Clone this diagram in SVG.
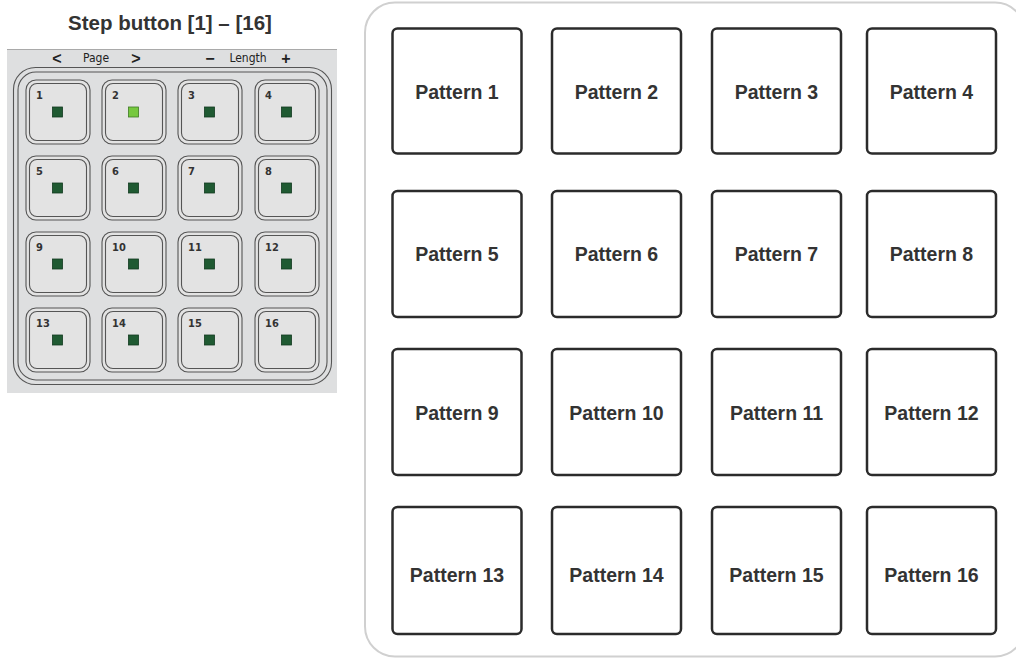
<svg xmlns="http://www.w3.org/2000/svg" width="1016" height="659" viewBox="0 0 1016 659">
<style>
.pad{fill:#fff;stroke:#2b2b2b;stroke-width:2.5}
.pt{font-family:"Liberation Sans",Arial,sans-serif;font-weight:bold;font-size:19.5px;fill:#333;text-anchor:middle}
.bo{fill:#e3e3e3;stroke:#555;stroke-width:1.1}
.bi{fill:none;stroke:#555;stroke-width:1.1}
.bn{font-family:"DejaVu Sans Condensed","Liberation Sans",sans-serif;font-weight:bold;font-size:11px;fill:#333}
.led{fill:#1f5a32;stroke:#123a20;stroke-width:0.8}
.hd{font-family:"DejaVu Sans Condensed","Liberation Sans",sans-serif;font-size:12px;fill:#222;text-anchor:middle}
.sym{font-family:"Liberation Sans",Arial,sans-serif;font-weight:bold;font-size:16px;fill:#222;text-anchor:middle}
</style>
<rect width="1016" height="659" fill="#fff"/>
<g id="title"><text x="170" y="30" font-family="Liberation Sans,Arial,sans-serif" font-weight="bold" font-size="20.5" fill="#333" text-anchor="middle">Step button [1] – [16]</text></g>
<g id="step-panel">
<rect x="7" y="49" width="330" height="344" fill="#dedfe0"/>
<line x1="7" y1="49.5" x2="337" y2="49.5" stroke="#a9a9a9" stroke-width="1"/>
<text class="sym" x="57" y="64">&lt;</text>
<text class="hd" x="96" y="62">Page</text>
<text class="sym" x="136" y="64">&gt;</text>
<text class="sym" x="210" y="64">−</text>
<text class="hd" x="248" y="62">Length</text>
<text class="sym" x="286" y="64">+</text>
<rect x="13.5" y="67.5" width="318" height="317" rx="22" fill="none" stroke="#555" stroke-width="1.1"/>
<rect x="18" y="72" width="309" height="308" rx="18" fill="none" stroke="#555" stroke-width="1.1"/>
</g>
<g id="step-buttons">
<g id="btn1"><rect class="bo" x="26" y="80" width="64" height="64" rx="10"/><rect class="bi" x="29.5" y="83.5" width="57" height="57" rx="7.5"/><text class="bn" x="36" y="99">1</text><rect class="led" x="52.5" y="107" width="10" height="10"/></g>
<g id="btn2"><rect class="bo" x="102" y="80" width="64" height="64" rx="10"/><rect class="bi" x="105.5" y="83.5" width="57" height="57" rx="7.5"/><text class="bn" x="112" y="99">2</text><rect x="128.5" y="107" width="10" height="10" fill="#76c83e" stroke="#3f7a24" stroke-width="0.8"/></g>
<g id="btn3"><rect class="bo" x="178" y="80" width="64" height="64" rx="10"/><rect class="bi" x="181.5" y="83.5" width="57" height="57" rx="7.5"/><text class="bn" x="188" y="99">3</text><rect class="led" x="204.5" y="107" width="10" height="10"/></g>
<g id="btn4"><rect class="bo" x="255" y="80" width="64" height="64" rx="10"/><rect class="bi" x="258.5" y="83.5" width="57" height="57" rx="7.5"/><text class="bn" x="265" y="99">4</text><rect class="led" x="281.5" y="107" width="10" height="10"/></g>
<g id="btn5"><rect class="bo" x="26" y="156" width="64" height="64" rx="10"/><rect class="bi" x="29.5" y="159.5" width="57" height="57" rx="7.5"/><text class="bn" x="36" y="175">5</text><rect class="led" x="52.5" y="183" width="10" height="10"/></g>
<g id="btn6"><rect class="bo" x="102" y="156" width="64" height="64" rx="10"/><rect class="bi" x="105.5" y="159.5" width="57" height="57" rx="7.5"/><text class="bn" x="112" y="175">6</text><rect class="led" x="128.5" y="183" width="10" height="10"/></g>
<g id="btn7"><rect class="bo" x="178" y="156" width="64" height="64" rx="10"/><rect class="bi" x="181.5" y="159.5" width="57" height="57" rx="7.5"/><text class="bn" x="188" y="175">7</text><rect class="led" x="204.5" y="183" width="10" height="10"/></g>
<g id="btn8"><rect class="bo" x="255" y="156" width="64" height="64" rx="10"/><rect class="bi" x="258.5" y="159.5" width="57" height="57" rx="7.5"/><text class="bn" x="265" y="175">8</text><rect class="led" x="281.5" y="183" width="10" height="10"/></g>
<g id="btn9"><rect class="bo" x="26" y="232" width="64" height="64" rx="10"/><rect class="bi" x="29.5" y="235.5" width="57" height="57" rx="7.5"/><text class="bn" x="36" y="251">9</text><rect class="led" x="52.5" y="259" width="10" height="10"/></g>
<g id="btn10"><rect class="bo" x="102" y="232" width="64" height="64" rx="10"/><rect class="bi" x="105.5" y="235.5" width="57" height="57" rx="7.5"/><text class="bn" x="112" y="251">10</text><rect class="led" x="128.5" y="259" width="10" height="10"/></g>
<g id="btn11"><rect class="bo" x="178" y="232" width="64" height="64" rx="10"/><rect class="bi" x="181.5" y="235.5" width="57" height="57" rx="7.5"/><text class="bn" x="188" y="251">11</text><rect class="led" x="204.5" y="259" width="10" height="10"/></g>
<g id="btn12"><rect class="bo" x="255" y="232" width="64" height="64" rx="10"/><rect class="bi" x="258.5" y="235.5" width="57" height="57" rx="7.5"/><text class="bn" x="265" y="251">12</text><rect class="led" x="281.5" y="259" width="10" height="10"/></g>
<g id="btn13"><rect class="bo" x="26" y="308" width="64" height="64" rx="10"/><rect class="bi" x="29.5" y="311.5" width="57" height="57" rx="7.5"/><text class="bn" x="36" y="327">13</text><rect class="led" x="52.5" y="335" width="10" height="10"/></g>
<g id="btn14"><rect class="bo" x="102" y="308" width="64" height="64" rx="10"/><rect class="bi" x="105.5" y="311.5" width="57" height="57" rx="7.5"/><text class="bn" x="112" y="327">14</text><rect class="led" x="128.5" y="335" width="10" height="10"/></g>
<g id="btn15"><rect class="bo" x="178" y="308" width="64" height="64" rx="10"/><rect class="bi" x="181.5" y="311.5" width="57" height="57" rx="7.5"/><text class="bn" x="188" y="327">15</text><rect class="led" x="204.5" y="335" width="10" height="10"/></g>
<g id="btn16"><rect class="bo" x="255" y="308" width="64" height="64" rx="10"/><rect class="bi" x="258.5" y="311.5" width="57" height="57" rx="7.5"/><text class="bn" x="265" y="327">16</text><rect class="led" x="281.5" y="335" width="10" height="10"/></g>
</g>
<g id="pattern-panel"><rect x="365" y="2.5" width="660" height="654" rx="30" fill="#fff" stroke="#d0d0d0" stroke-width="2"/></g>
<g id="patterns">
<g id="p1"><rect class="pad" x="392.5" y="28.5" width="129" height="125" rx="5"/><text class="pt" x="457" y="99">Pattern 1</text></g>
<g id="p2"><rect class="pad" x="552" y="28.5" width="129" height="125" rx="5"/><text class="pt" x="616.5" y="99">Pattern 2</text></g>
<g id="p3"><rect class="pad" x="712" y="28.5" width="129" height="125" rx="5"/><text class="pt" x="776.5" y="99">Pattern 3</text></g>
<g id="p4"><rect class="pad" x="867" y="28.5" width="129" height="125" rx="5"/><text class="pt" x="931.5" y="99">Pattern 4</text></g>
<g id="p5"><rect class="pad" x="392.5" y="191" width="129" height="126" rx="5"/><text class="pt" x="457" y="261">Pattern 5</text></g>
<g id="p6"><rect class="pad" x="552" y="191" width="129" height="126" rx="5"/><text class="pt" x="616.5" y="261">Pattern 6</text></g>
<g id="p7"><rect class="pad" x="712" y="191" width="129" height="126" rx="5"/><text class="pt" x="776.5" y="261">Pattern 7</text></g>
<g id="p8"><rect class="pad" x="867" y="191" width="129" height="126" rx="5"/><text class="pt" x="931.5" y="261">Pattern 8</text></g>
<g id="p9"><rect class="pad" x="392.5" y="349" width="129" height="126" rx="5"/><text class="pt" x="457" y="420">Pattern 9</text></g>
<g id="p10"><rect class="pad" x="552" y="349" width="129" height="126" rx="5"/><text class="pt" x="616.5" y="420">Pattern 10</text></g>
<g id="p11"><rect class="pad" x="712" y="349" width="129" height="126" rx="5"/><text class="pt" x="776.5" y="420">Pattern 11</text></g>
<g id="p12"><rect class="pad" x="867" y="349" width="129" height="126" rx="5"/><text class="pt" x="931.5" y="420">Pattern 12</text></g>
<g id="p13"><rect class="pad" x="392.5" y="507" width="129" height="127" rx="5"/><text class="pt" x="457" y="582">Pattern 13</text></g>
<g id="p14"><rect class="pad" x="552" y="507" width="129" height="127" rx="5"/><text class="pt" x="616.5" y="582">Pattern 14</text></g>
<g id="p15"><rect class="pad" x="712" y="507" width="129" height="127" rx="5"/><text class="pt" x="776.5" y="582">Pattern 15</text></g>
<g id="p16"><rect class="pad" x="867" y="507" width="129" height="127" rx="5"/><text class="pt" x="931.5" y="582">Pattern 16</text></g>
</g>
<g id="connectors"></g>
</svg>
